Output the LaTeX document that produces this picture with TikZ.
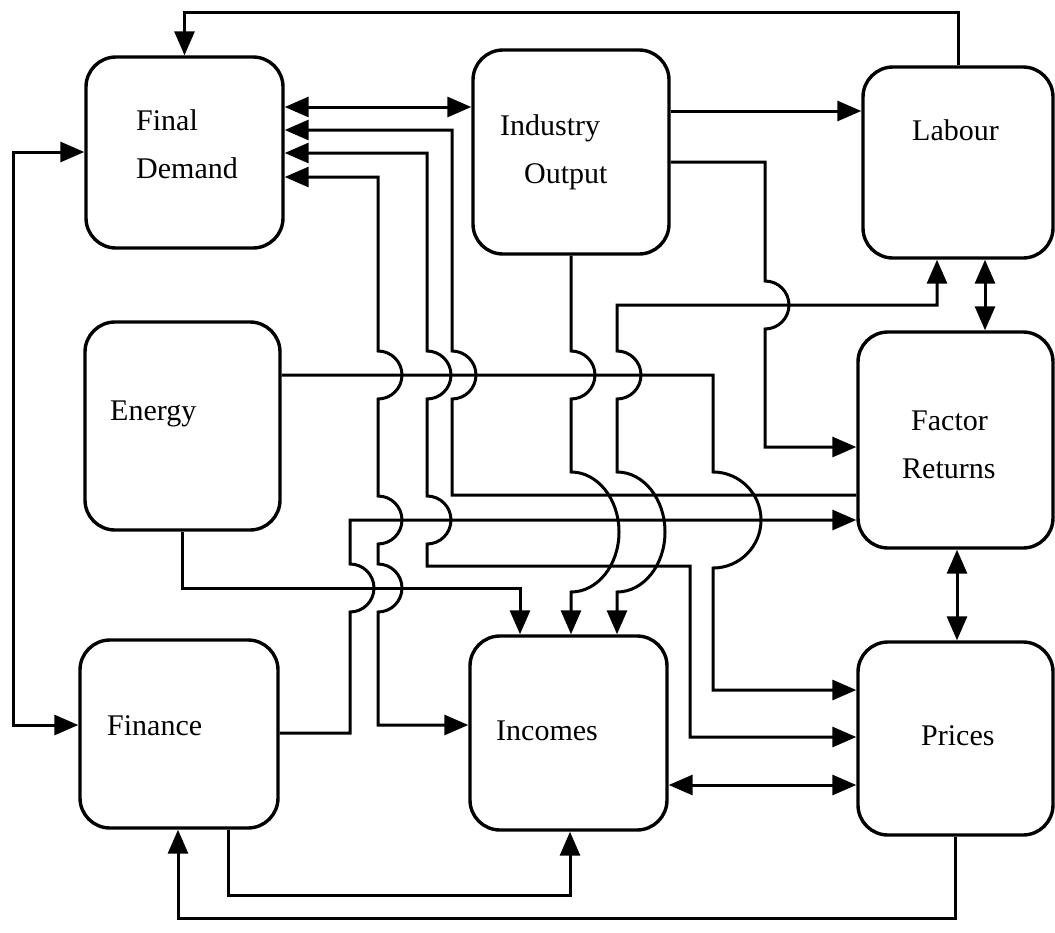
\documentclass[tikz,border=0pt]{standalone}
\usepackage{fontspec}
\setmainfont{Liberation Serif}
\usetikzlibrary{arrows.meta}
\begin{document}
\begin{tikzpicture}[x=1pt,y=-1pt,
  box/.style={draw,line width=3.4pt,rounded corners=30pt,inner sep=0pt},
  lbl/.style={anchor=base west,inner sep=0pt,font=\fontsize{30}{36}\selectfont},
  conn/.style={line width=3pt,line join=miter},
  >={Triangle[length=24pt,width=20pt]}]
\useasboundingbox (0,0) rectangle (1055,932);
% sectors
\node[box,minimum width=197pt,minimum height=191pt] (fd)  at (184.5,152.5) {};
\node[box,minimum width=196pt,minimum height=204pt] (io)  at (571,152) {};
\node[box,minimum width=190pt,minimum height=191pt] (lab) at (958,162.5) {};
\node[box,minimum width=195pt,minimum height=208pt] (en)  at (182.5,426) {};
\node[box,minimum width=195pt,minimum height=216pt] (fr)  at (955.5,440) {};
\node[box,minimum width=198pt,minimum height=188pt] (fin) at (179,734) {};
\node[box,minimum width=197pt,minimum height=194pt] (inc) at (568.5,733) {};
\node[box,minimum width=195pt,minimum height=193pt] (pri) at (955.5,738.5) {};
% labels
\node[lbl] (t1) at (136,130) {Final};
\node[lbl] (t2) at (136,178) {Demand};
\node[lbl] (t3) at (500,135) {Industry};
\node[lbl] (t4) at (524,183) {Output};
\node[lbl] (t5) at (912,140) {Labour};
\node[lbl] (t6) at (110,420) {Energy};
\node[lbl] (t7) at (911,430) {Factor};
\node[lbl] (t8) at (902,478) {Returns};
\node[lbl] (t9) at (107,735) {Finance};
\node[lbl] (t10) at (496,740) {Incomes};
\node[lbl] (t11) at (921,745) {Prices};
% connectors
\draw[conn,->] (lab.north) -- (lab.north |- 0,12) -| (fd.north);
\draw[conn,<->] (fd.west |- 0,152) -- (13,152) |- (fin.west |- 0,725);
\draw[conn,<->] (fd.east |- 0,107) -- (io.west |- 0,107);
\draw[conn,->] (io.east |- 0,111) -- (lab.west |- 0,111);
\draw[conn,<-] (fd.east |- 0,130) -- (452,130) -- (452,351)
  arc[start angle=90,end angle=-90,radius=24pt] -- (452,495) -- (fr.west |- 0,495);
\draw[conn,<->] (fd.east |- 0,153) -- (427,153) -- (427,351)
  arc[start angle=90,end angle=-90,radius=24pt] -- (427,496)
  arc[start angle=90,end angle=-90,radius=24pt] -- (427,566) -- (690,566)
  -- (690,737) -- (pri.west |- 0,737);
\draw[conn,<->] (fd.east |- 0,177) -- (378,177) -- (378,351)
  arc[start angle=90,end angle=-90,radius=24pt] -- (378,496)
  arc[start angle=90,end angle=-90,radius=24pt] -- (378,564)
  arc[start angle=90,end angle=-90,radius=24pt] -- (378,725) -- (inc.west |- 0,725);
\draw[conn,->] (fin.east |- 0,733) -- (350,733) -- (350,612)
  arc[start angle=-90,end angle=90,radius=24pt] -- (350,520) -- (fr.west |- 0,520);
\draw[conn,->] (en.south) -- (en.south |- 0,588) -- (520,588) -- (inc.north -| 520,0);
\draw[conn,->] (en.east |- 0,375) -- (713,375) -- (713,472)
  arc[start angle=90,end angle=-90,radius=48pt] -- (713,690) -- (pri.west |- 0,690);
\draw[conn,->] (io.south) -- (io.south |- 0,351)
  arc[start angle=90,end angle=-90,radius=24pt] -- (io.south |- 0,472)
  arc[start angle=90,end angle=-90,x radius=48pt,y radius=60pt] -- (io.south |- inc.north);
\draw[conn,<->] (inc.north -| 617,0) -- (617,592)
  arc[start angle=-90,end angle=90,x radius=48pt,y radius=60pt] -- (617,399)
  arc[start angle=-90,end angle=90,radius=24pt] -- (617,305) -- (937,305)
  -- (lab.south -| 937,0);
\draw[conn,->] (io.east |- 0,162) -- (765,162) -- (765,281)
  arc[start angle=90,end angle=-90,radius=24pt] -- (765,447) -- (fr.west |- 0,447);
\draw[conn,<->] (lab.south -| 985,0) -- (fr.north -| 985,0);
\draw[conn,<->] (fr.south -| 957,0) -- (pri.north -| 957,0);
\draw[conn,<->] (inc.east |- 0,785) -- (pri.west |- 0,785);
\draw[conn,->] (fin.south -| 228,0) -- (228,895) -| (inc.south -| 570,0);
\draw[conn,->] (pri.south) -- (pri.south |- 0,918) -| (fin.south -| 178,0);
\end{tikzpicture}
\end{document}
